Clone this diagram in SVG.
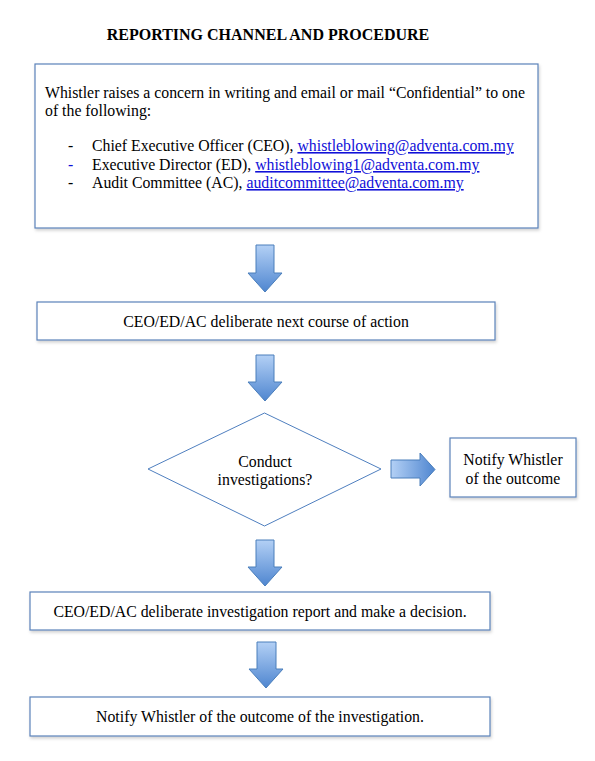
<svg xmlns="http://www.w3.org/2000/svg" width="595" height="761" viewBox="0 0 595 761">
<defs>
<linearGradient id="gv" x1="0" y1="0" x2="0" y2="1"><stop offset="0" stop-color="#b3d0f5"/><stop offset="1" stop-color="#4f86d0"/></linearGradient>
<linearGradient id="gh" x1="0" y1="0" x2="1" y2="0"><stop offset="0" stop-color="#b3d0f5"/><stop offset="1" stop-color="#4f86d0"/></linearGradient>
<filter id="sh" x="-5%" y="-5%" width="110%" height="120%"><feDropShadow dx="1" dy="2" stdDeviation="1.5" flood-color="#000" flood-opacity="0.18"/></filter>
</defs>
<style>
text{font-family:"Liberation Serif","Times New Roman",serif;font-size:15.8px;fill:#000}
.c{text-anchor:middle}
.t{font-weight:bold;font-size:16px}
.box{fill:#fff;stroke:#5b82ba;stroke-width:1.2;filter:url(#sh)}
.a{stroke:#4a7ebb;stroke-width:1;fill:url(#gv)}
.ah{stroke:#4a7ebb;stroke-width:1;fill:url(#gh)}
.l{fill:#1010d8;text-decoration:underline}
</style>
<rect width="595" height="761" fill="#fff"/>
<text class="t c" x="268" y="40">REPORTING CHANNEL AND PROCEDURE</text>
<g id="n1">
<rect class="box" x="35" y="64" width="503" height="164"/>
<text x="45" y="98">Whistler raises a concern in writing and email or mail “Confidential” to one</text>
<text x="45" y="116">of the following:</text>
<text x="68" y="151">-</text><text x="92" y="151">Chief Executive Officer (CEO), <tspan class="l">whistleblowing@adventa.com.my</tspan></text>
<text x="68" y="170" style="fill:#1010d8">-</text><text x="92" y="170">Executive Director (ED), <tspan class="l">whistleblowing1@adventa.com.my</tspan></text>
<text x="68" y="188">-</text><text x="92" y="188">Audit Committee (AC), <tspan class="l">auditcommittee@adventa.com.my</tspan></text>
</g>
<g id="n2">
<rect class="box" x="37" y="302" width="458" height="38"/>
<text class="c" x="266" y="327">CEO/ED/AC deliberate next course of action</text>
</g>
<g id="n3">
<polygon points="264.5,413 381,469 264.5,526 148,469" fill="#fff" stroke="#4f7fbf" stroke-width="1"/>
<text class="c" x="265" y="467">Conduct</text>
<text class="c" x="265" y="485">investigations?</text>
</g>
<g id="n4">
<rect class="box" x="450" y="438" width="126" height="59"/>
<text class="c" x="513" y="465">Notify Whistler</text>
<text class="c" x="513" y="484">of the outcome</text>
</g>
<g id="n5">
<rect class="box" x="30" y="592" width="460" height="38"/>
<text class="c" x="260" y="617">CEO/ED/AC deliberate investigation report and make a decision.</text>
</g>
<g id="n6">
<rect class="box" x="30" y="697" width="460" height="39"/>
<text class="c" x="260" y="722">Notify Whistler of the outcome of the investigation.</text>
</g>
<g id="connectors">
<polygon class="a" points="256,245 274,245 274,273 282,273 265,292 248,273 256,273"/>
<polygon class="a" points="256,355 274,355 274,382 282,382 265,401 248,382 256,382"/>
<polygon class="ah" points="391,460 420,460 420,453 435,469.5 420,486 420,478 391,478"/>
<polygon class="a" points="256,540 274,540 274,567 282,567 265,586 248,567 256,567"/>
<polygon class="a" points="257,642 276,642 276,669 283,669 266,688 249,669 257,669"/>
</g>
</svg>
